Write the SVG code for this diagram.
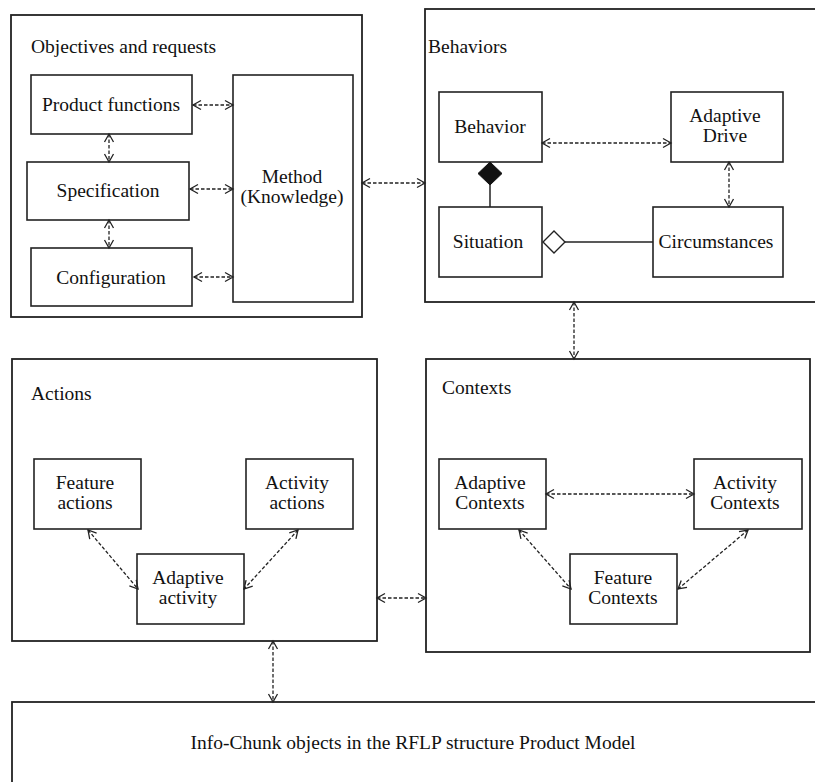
<svg xmlns="http://www.w3.org/2000/svg" width="815" height="782" viewBox="0 0 815 782">
<style>
  .box{fill:#fff;stroke:#222;stroke-width:1.8}
  .inner{fill:#fff;stroke:#222;stroke-width:1.6}
  text{font-family:'Liberation Serif','DejaVu Serif',serif;font-size:19.5px;fill:#111}
  .c{text-anchor:middle}
  .dash{fill:none;stroke:#222;stroke-width:1.3;stroke-dasharray:3.5 2}
  .solid{fill:none;stroke:#222;stroke-width:1.5}
</style>
<defs>
  <marker id="arr" markerUnits="userSpaceOnUse" markerWidth="12" markerHeight="12" refX="9" refY="6" orient="auto-start-reverse">
    <path d="M1,1.5 L9,6 L1,10.5" fill="none" stroke="#222" stroke-width="1.3"/>
  </marker>
</defs>
<rect width="815" height="782" fill="#fff"/>

<g font-family="'Liberation Serif', 'DejaVu Serif', serif">
<g id="objectives">
  <rect class="box" x="11" y="15" width="351" height="302"/>
  <text x="31" y="53">Objectives and requests</text>
</g>
<g id="product-functions">
  <rect class="inner" x="31" y="75" width="161" height="59"/>
  <text class="c" x="111" y="111">Product functions</text>
</g>
<g id="specification">
  <rect class="inner" x="27" y="162" width="162" height="58"/>
  <text class="c" x="108" y="197">Specification</text>
</g>
<g id="configuration">
  <rect class="inner" x="31" y="248" width="161" height="58"/>
  <text class="c" x="111" y="284">Configuration</text>
</g>
<g id="method">
  <rect class="inner" x="233" y="75" width="120" height="227"/>
  <text class="c" x="292" y="183">Method</text>
  <text class="c" x="292" y="203">(Knowledge)</text>
</g>

<g id="behaviors">
  <rect class="box" x="425" y="9" width="410" height="293"/>
  <text x="428" y="53">Behaviors</text>
</g>
<g id="behavior">
  <rect class="inner" x="439" y="92" width="103" height="70"/>
  <text class="c" x="490" y="133">Behavior</text>
</g>
<g id="adaptive-drive">
  <rect class="inner" x="671" y="92" width="112" height="70"/>
  <text class="c" x="725" y="122">Adaptive</text>
  <text class="c" x="725" y="142">Drive</text>
</g>
<g id="situation">
  <rect class="inner" x="439" y="207" width="103" height="70"/>
  <text class="c" x="488" y="248">Situation</text>
</g>
<g id="circumstances">
  <rect class="inner" x="653" y="207" width="130" height="70"/>
  <text class="c" x="716" y="248">Circumstances</text>
</g>

<g id="actions">
  <rect class="box" x="12" y="359" width="365" height="282"/>
  <text x="31" y="400">Actions</text>
</g>
<g id="feature-actions">
  <rect class="inner" x="34" y="459" width="107" height="70"/>
  <text class="c" x="85" y="489">Feature</text>
  <text class="c" x="85" y="509">actions</text>
</g>
<g id="activity-actions">
  <rect class="inner" x="246" y="459" width="107" height="70"/>
  <text class="c" x="297" y="489">Activity</text>
  <text class="c" x="297" y="509">actions</text>
</g>
<g id="adaptive-activity">
  <rect class="inner" x="137" y="554" width="107" height="70"/>
  <text class="c" x="188" y="584">Adaptive</text>
  <text class="c" x="188" y="604">activity</text>
</g>

<g id="contexts">
  <rect class="box" x="426" y="359" width="384" height="293"/>
  <text x="442" y="394">Contexts</text>
</g>
<g id="adaptive-contexts">
  <rect class="inner" x="439" y="459" width="107" height="70"/>
  <text class="c" x="490" y="489">Adaptive</text>
  <text class="c" x="490" y="509">Contexts</text>
</g>
<g id="activity-contexts">
  <rect class="inner" x="694" y="459" width="108" height="70"/>
  <text class="c" x="745" y="489">Activity</text>
  <text class="c" x="745" y="509">Contexts</text>
</g>
<g id="feature-contexts">
  <rect class="inner" x="570" y="554" width="107" height="70"/>
  <text class="c" x="623" y="584">Feature</text>
  <text class="c" x="623" y="604">Contexts</text>
</g>

<g id="info-chunk">
  <rect class="box" x="12" y="702" width="830" height="120"/>
  <text class="c" x="413" y="749">Info-Chunk objects in the RFLP structure Product Model</text>
</g>
</g>

<g id="connectors">
  <line class="dash" x1="193" y1="105" x2="233" y2="105" marker-start="url(#arr)" marker-end="url(#arr)"/>
  <line class="dash" x1="190" y1="189" x2="233" y2="189" marker-start="url(#arr)" marker-end="url(#arr)"/>
  <line class="dash" x1="194" y1="277" x2="233" y2="277" marker-start="url(#arr)" marker-end="url(#arr)"/>
  <line class="dash" x1="109" y1="134" x2="109" y2="162" marker-start="url(#arr)" marker-end="url(#arr)"/>
  <line class="dash" x1="109" y1="220" x2="109" y2="248" marker-start="url(#arr)" marker-end="url(#arr)"/>
  <line class="dash" x1="362" y1="183" x2="425" y2="183" marker-start="url(#arr)" marker-end="url(#arr)"/>

  <line class="dash" x1="542" y1="143" x2="671" y2="143" marker-start="url(#arr)" marker-end="url(#arr)"/>
  <line class="dash" x1="729" y1="162" x2="729" y2="207" marker-start="url(#arr)" marker-end="url(#arr)"/>
  <polygon points="490,162 502,173.5 490,185 478,173.5" fill="#111" stroke="#111" stroke-width="1"/>
  <line class="solid" x1="490" y1="185" x2="490" y2="207"/>
  <polygon points="543,242 554,231 565,242 554,253" fill="#fff" stroke="#222" stroke-width="1.4"/>
  <line class="solid" x1="565" y1="242" x2="653" y2="242"/>

  <line class="dash" x1="574" y1="302" x2="574" y2="359" marker-start="url(#arr)" marker-end="url(#arr)"/>

  <line class="dash" x1="88" y1="530" x2="138" y2="589" marker-start="url(#arr)" marker-end="url(#arr)"/>
  <line class="dash" x1="298" y1="530" x2="244" y2="589" marker-start="url(#arr)" marker-end="url(#arr)"/>
  <line class="dash" x1="377" y1="598" x2="426" y2="598" marker-start="url(#arr)" marker-end="url(#arr)"/>

  <line class="dash" x1="546" y1="494" x2="694" y2="494" marker-start="url(#arr)" marker-end="url(#arr)"/>
  <line class="dash" x1="519" y1="530" x2="571" y2="589" marker-start="url(#arr)" marker-end="url(#arr)"/>
  <line class="dash" x1="748" y1="530" x2="678" y2="589" marker-start="url(#arr)" marker-end="url(#arr)"/>

  <line class="dash" x1="273" y1="641" x2="273" y2="702" marker-start="url(#arr)" marker-end="url(#arr)"/>
</g>
</svg>
